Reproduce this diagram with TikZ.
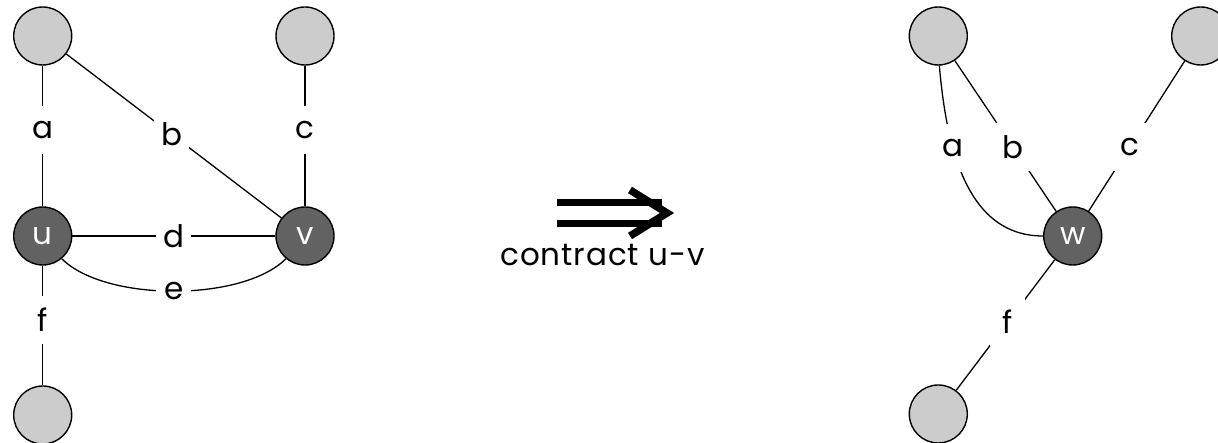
\documentclass[tikz,border=0pt]{standalone}
\usepackage{fontspec}
\setmainfont{Poppins}
\definecolor{lightnode}{RGB}{204,204,204}
\definecolor{darknode}{RGB}{98,98,98}
\begin{document}
\begin{tikzpicture}[x=1pt,y=1pt,
  vert/.style={circle, draw=black, line width=1.4pt, minimum size=58pt, inner sep=0pt},
  outernode/.style={vert, fill=lightnode},
  innernode/.style={vert, fill=darknode, text=white, font=\fontsize{31}{34}\selectfont},
  edge/.style={line width=1.3pt},
  lbl/.style={fill=white, inner sep=0pt, minimum width=35pt, minimum height=48pt, font=\fontsize{31}{34}\selectfont},
  bigarrow/.style={line width=7.5pt}
]
\useasboundingbox (0,0) rectangle (1218,443);
% left graph
\node[outernode] (TL) at (42.7,407) {};
\node[outernode] (TR) at (305,407) {};
\node[innernode] (u) at (42.7,207) {u};
\node[innernode] (v) at (305,207) {v};
\node[outernode] (BL) at (42.7,28) {};
\draw[edge] (TL) -- node[lbl,pos=0.457] {a} (u);
\draw[edge] (TL) -- node[lbl,pos=0.49] {b} (v);
\draw[edge] (TR) -- node[lbl,pos=0.457] {c} (v);
\draw[edge] (u) -- node[lbl,midway] {d} (v);
\draw[edge] (u.-50) to[out=-45,in=-135,looseness=0.7] node[lbl,midway] {e} (v.-130);
\draw[edge] (u) -- node[lbl,pos=0.454] {f} (BL);
% arrow
\coordinate (ar1) at (557,240.5);
\coordinate (ar2) at (662,240.5);
\coordinate (ar3) at (557,219.5);
\coordinate (ar4) at (662,219.5);
\draw[bigarrow] (ar1) -- (ar2);
\draw[bigarrow] (ar3) -- (ar4);
\coordinate (tipA) at (630,253);
\coordinate (tip) at (667,230);
\coordinate (tipB) at (630,207);
\draw[bigarrow, line join=miter] (tipA) -- (tip) -- (tipB);
\node[anchor=base, font=\fontsize{31}{34}\selectfont\addfontfeature{LetterSpace=3}] (ctext) at (602.5,177) {contract u-v};
% right graph
\node[outernode] (RTL) at (938.3,407) {};
\node[outernode] (RTR) at (1200.7,407) {};
\node[innernode] (w) at (1072.7,207) {w};
\node[outernode] (RBL) at (938.3,29) {};
\draw[edge] (RTL.-88) to[out=-85,in=180] node[lbl,pos=0.35] {a} (w.west);
\draw[edge] (RTL) -- node[lbl,pos=0.572] {b} (w);
\draw[edge] (RTR) -- node[lbl,pos=0.573] {c} (w);
\draw[edge] (w) -- node[lbl,pos=0.477] {f} (RBL);
\end{tikzpicture}
\end{document}
